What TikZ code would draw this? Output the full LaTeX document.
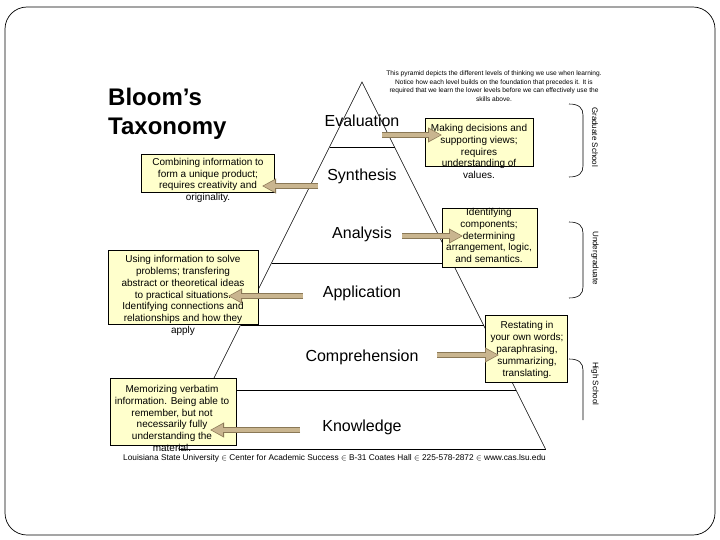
\documentclass[tikz,border=0pt]{standalone}
\usepackage{fontspec}
\setmainfont{Liberation Sans}
\usetikzlibrary{arrows.meta}
\definecolor{boxyellow}{HTML}{FFFFCC}
\definecolor{arrowin}{HTML}{C9B58F}
\definecolor{arrowout}{HTML}{8A7856}
\begin{document}
\begin{tikzpicture}[x=1pt,y=-1pt,
  level/.style={font=\fontsize{16}{19}\selectfont, inner sep=0pt},
  notebox/.style={fill=boxyellow, draw=black, line width=0.6pt, inner sep=0pt},
  boxtext/.style={align=center, font=\fontsize{10}{11.8}\selectfont, inner sep=0pt},
  sidelabel/.style={font=\fontsize{8}{9}\selectfont, rotate=-90, inner sep=0pt},
  bracepath/.style={line width=0.6pt},
  levelline/.style={line width=0.7pt},
  arrowouter/.style={draw=arrowout, line width=6pt, -{Triangle[length=14pt,width=14pt,fill=arrowout]}},
  arrowinner/.style={draw=arrowin, line width=4pt, shorten >=1.3pt, -{Triangle[length=11.5pt,width=11pt,fill=arrowin]}}
]
\useasboundingbox (0,0) rectangle (720,540);
% slide frame
\draw[line width=0.7pt, rounded corners=22pt] (5,7) rectangle (715,535);

% pyramid
\coordinate (apex) at (362,82);
\coordinate (bl) at (178.5,449);
\coordinate (br) at (545.5,449);
\draw[line width=0.5pt] (bl) -- (apex) -- (br);
\draw[levelline] (bl) -- (br);
\coordinate (l1a) at (329.5,147); \coordinate (l1b) at (394.5,147);
\coordinate (l2a) at (271.5,263); \coordinate (l2b) at (452.5,263);
\coordinate (l3a) at (240.5,325); \coordinate (l3b) at (483.5,325);
\coordinate (l4a) at (208,390); \coordinate (l4b) at (516,390);
\draw[levelline] (l1a) -- (l1b);
\draw[levelline] (l2a) -- (l2b);
\draw[levelline] (l3a) -- (l3b);
\draw[levelline] (l4a) -- (l4b);

% level labels
\node[level] (eval) at (362,121) {Evaluation};
\node[level] (synth) at (362,176) {Synthesis};
\node[level] (anal) at (362,234) {Analysis};
\node[level] (appl) at (362,293) {Application};
\node[level] (comp) at (362,357) {Comprehension};
\node[level] (know) at (362,427) {Knowledge};

% title
\node[anchor=west, align=left, font=\fontsize{24}{29}\bfseries\selectfont, inner sep=0pt] (title) at (108,113.5) {Bloom’s\\Taxonomy};

% top note
\node[align=center, font=\fontsize{6.6}{8.7}\selectfont, inner sep=0pt] (topnote) at (494,86) {This pyramid depicts the different levels of thinking we use when learning.\\Notice how each level builds on the foundation that precedes it. It is\\required that we learn the lower levels before we can effectively use the\\skills above.};

% description boxes
\node[notebox, minimum width=108pt, minimum height=48pt] (evalbox) at (479,142) {};
\node[boxtext] (evaltext) at (479,151.5) {Making decisions and\\supporting views;\\requires\\understanding of\\values.};

\node[notebox, minimum width=133pt, minimum height=38pt] (synthbox) at (208,173) {};
\node[boxtext] (synthtext) at (208,180.5) {Combining information to\\form a unique product;\\requires creativity and\\originality.};

\node[notebox, minimum width=95pt, minimum height=59pt] (analbox) at (489.5,237.5) {};
\node[boxtext] (analtext) at (489,235.5) {Identifying\\components;\\determining\\arrangement, logic,\\and semantics.};

\node[notebox, minimum width=150pt, minimum height=74pt] (applbox) at (183,287) {};
\node[boxtext] (appltext) at (183,295.5) {Using information to solve\\problems; transfering\\abstract or theoretical ideas\\to practical situations.\\Identifying connections and\\relationships and how they\\apply};

\node[notebox, minimum width=82pt, minimum height=67pt] (compbox) at (526,348.5) {};
\node[boxtext] (comptext) at (527,350) {Restating in\\your own words;\\paraphrasing,\\summarizing,\\translating.};

\node[notebox, minimum width=126pt, minimum height=67pt] (knowbox) at (173,411.5) {};
\node[boxtext] (knowtext) at (172,418.5) {Memorizing verbatim\\information. Being able to\\remember, but not\\necessarily fully\\understanding the\\material.};

% arrows
\coordinate (ea) at (382,135); \coordinate (eb) at (442,135);
\coordinate (sa) at (318,186); \coordinate (sb) at (262,186);
\coordinate (aa) at (402,236); \coordinate (ab) at (463,236);
\coordinate (pa) at (303,296); \coordinate (pb) at (228,296);
\coordinate (ca) at (437,355); \coordinate (cb) at (499,355);
\coordinate (ka) at (300,430); \coordinate (kb) at (210,430);
\foreach \s/\e in {ea/eb, sa/sb, aa/ab, pa/pb, ca/cb, ka/kb}{
  \draw[arrowouter] (\s) -- (\e);
  \draw[arrowinner] (\s) -- (\e);
}

% braces and side labels
\draw[bracepath] (569,104) .. controls (579,104) and (583,108) .. (583,115) -- (583,166) .. controls (583,173) and (579,177) .. (569,177);
\draw[bracepath] (569,222) .. controls (579,222) and (583,226) .. (583,233) -- (583,287) .. controls (583,294) and (579,298) .. (569,298);
\draw[bracepath] (569,359) .. controls (579,359) and (583,363) .. (583,370) -- (583,420);
\node[sidelabel, anchor=west] (grad) at (595,107) {Graduate School};
\node[sidelabel] (under) at (595,258) {Undergraduate};
\node[sidelabel, anchor=west] (high) at (595,362) {High School};

% footer
\node[font=\fontsize{8.3}{9}\selectfont, inner sep=0pt] (footer) at (334.5,458.5) {Louisiana State University $\in$ Center for Academic Success $\in$ B-31 Coates Hall $\in$ 225-578-2872 $\in$ www.cas.lsu.edu};
\end{tikzpicture}
\end{document}
